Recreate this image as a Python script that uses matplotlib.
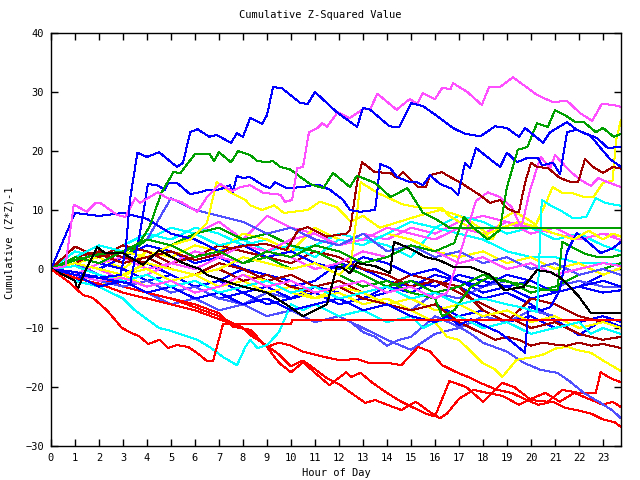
import matplotlib
matplotlib.use("Agg")
import matplotlib.pyplot as plt

# ---------------- data ----------------
hours = [0, 1, 2, 3, 4, 5, 6, 7, 8, 9, 10, 11, 12, 13, 14, 15, 16, 17, 18, 19, 20, 21, 22, 23, 23.75]
hour_labels = [str(i) for i in range(24)]
y_ticks = [-30, -20, -10, 0, 10, 20, 30, 40]

RED = "#ff0000"; GREEN = "#00a000"; BLUE = "#0000ff"; MAG = "#ff50ff"
CYAN = "#00ffff"; DRED = "#a00000"; YEL = "#ffff00"; BLACK = "#000000"; LBLUE = "#5050ff"

# irregularly sampled series (hours, values)
blue_top_h = [0, 1, 2, 2.9, 3.1, 3.3, 3.6, 4.0, 4.5, 5.25, 5.5, 5.8, 6.1, 6.6, 6.9, 7.5, 7.75, 8.0, 8.3, 8.8,
              9.0, 9.25, 9.6, 10.4, 10.7, 11.0, 11.9, 12.75, 13.0, 13.3, 14.1, 14.5, 15.0, 15.5, 16.2, 16.75,
              17.25, 17.9, 18.5, 19.0, 19.5, 19.75, 20.5, 20.8, 21.5, 21.9, 22.75, 23.2, 23.75]
blue_top_v = [0, -1, -1.5, -1, 3, 12, 19.7, 19, 19.8, 17.3, 18, 23.2, 23.7, 22.4, 22.7, 21.4, 23, 22.4, 25.6, 24.6,
              26.1, 30.8, 30.7, 28.1, 28, 30, 26.6, 24.1, 27.3, 27, 24.2, 24, 28.1, 27.6, 25.6, 23.9,
              22.9, 22.5, 24.2, 23.9, 22.4, 23.9, 21.4, 23.2, 24.9, 23.6, 22.2, 20.5, 20.7]

mag_top_h = [0, 0.6, 0.95, 1.5, 1.85, 2.05, 2.75, 3.1, 3.5, 3.7, 4.45, 4.85, 5.4, 6.1, 6.5, 7.05, 7.55, 7.9, 8.3, 8.85,
             9.55, 9.75, 10.05, 10.25, 10.5, 10.75, 11.1, 11.3, 11.5, 11.95, 12.45, 13.0, 13.3, 13.6, 14.4, 14.95,
             15.25, 15.5, 16.0, 16.3, 16.65, 16.75, 17.35, 17.95, 18.25, 18.7, 19.25, 19.65, 20.25, 20.9, 21.5,
             22.05, 22.55, 22.95, 23.4, 23.75]
mag_top_v = [0, 0.5, 10.9, 9.7, 11.2, 11.2, 9.2, 8.8, 12, 11.2, 13, 12, 11.4, 9.7, 12.2, 14.4, 13.2, 13.9, 14.2, 12.9,
             12.6, 11.4, 11.7, 17.1, 17.3, 23.2, 23.9, 24.7, 24.1, 26.6, 25.6, 27.1, 27.1, 29.7, 27, 28.8,
             28, 29.8, 28.8, 30.7, 30.5, 31.5, 30, 27.8, 30.8, 30.8, 32.5, 31.3, 29.5, 28.3, 28.5,
             26.4, 25.1, 28, 27.8, 27.5]

green_top_h = [0, 1, 2, 3.1, 3.7, 4.1, 4.6, 5.1, 5.4, 6.0, 6.6, 6.8, 7.0, 7.5, 7.8, 8.3, 8.6, 9.0, 9.25, 9.55,
               9.95, 10.8, 11.35, 11.75, 12.45, 12.75, 13.5, 14.15, 14.85, 15.5, 16.1, 16.6, 23.75]
green_top_v = [0, 1.5, 2.5, 3, 4.5, 7.1, 12.9, 16.4, 16.3, 19.5, 19.5, 18.3, 19.8, 18.1, 20, 19.3, 18.3, 18.1, 18.3, 17.3,
               16.9, 14.4, 13.7, 16.3, 13.9, 15.8, 14.6, 12.2, 13.7, 9.5, 8.3, 7.0, 7.0]

green_end_h = [0, 1, 2, 3, 4, 5, 6, 7, 8, 9, 10, 11, 12, 13, 14, 15, 16, 16.8, 17.2, 17.6, 18.2, 18.7, 19.0,
               19.45, 19.85, 20.25, 20.7, 21.0, 21.4, 21.85, 22.2, 22.7, 23.0, 23.45, 23.75]
green_end_v = [0, 2, 1, 3, 5, 4, 2, 3, 1, 3, 2, 4, 3, 1, 2, 4, 3, 4.4, 8.8, 7, 5, 6.6, 13.9,
               20.2, 20.7, 24.7, 24.1, 26.9, 26.1, 24.9, 24.9, 23.2, 23.9, 22.4, 22.9]

blue2_h = [0, 1, 2, 3.3, 3.7, 4.04, 4.42, 4.75, 4.88, 5.25, 5.79, 6.21, 6.5, 6.92, 7.17, 7.46, 7.58, 7.75, 8.0, 8.29,
           8.83, 9.13, 9.33, 9.83, 10.5, 10.88, 11.21, 11.63, 12.17, 12.46, 12.88, 13.5, 13.58, 13.71, 14.13, 14.42,
           14.96, 15.25, 15.5, 15.79, 16.21, 16.71, 16.96, 17.25, 17.46, 17.71, 18.08, 18.71, 19.0, 19.42, 19.83,
           20.29, 20.46, 20.92, 21.21, 21.5, 21.92, 22.5, 22.9, 23.3, 23.75]
blue2_v = [0, -0.5, -1.5, -2.5, 6, 14.4, 14.2, 13.4, 14.6, 14.6, 12.7, 13, 13.4, 13.4, 13.7, 14.2, 13, 15.8, 15.4, 15.6,
           14.2, 13.7, 14.7, 13.7, 13.9, 14.2, 14.2, 13.4, 11.7, 10, 9.7, 10, 12.5, 17.8, 17.1, 15.6,
           14.7, 14.7, 14.2, 15.9, 14.4, 13.6, 12.5, 18, 17.1, 20.5, 19.3, 17.3, 19.7, 18.1, 18.8,
           18.8, 17.6, 18, 16.1, 23.2, 23.6, 22.5, 20.5, 18.6, 17.3]

dred_hi_h = [0, 1, 2, 3, 4, 5, 6, 7, 7.5, 8.3, 9.0, 9.8, 10.3, 10.7, 11.5, 12.3, 12.46, 12.75, 12.96, 13.5,
             14.13, 14.42, 14.67, 15.3, 15.63, 15.79, 16.29, 16.63, 17.04, 17.46, 17.88, 18.29, 18.71, 19.0, 19.33,
             19.5, 19.75, 20.0, 20.25, 20.71, 21.21, 21.71, 21.96, 22.25, 22.58, 23.0, 23.42, 23.75]
dred_hi_v = [0, 1.5, 2.5, 1, 2, 3, 1.5, 2.5, 3.5, 4.1, 4.2, 3.2, 6.6, 7.1, 5.5, 6, 6.6, 14.6, 18.1, 16.4,
             16.3, 15.4, 16.4, 13.9, 13.9, 15.9, 16.4, 15.6, 14.7, 13.6, 12.5, 11.2, 11.7, 10.3, 9.7,
             9.7, 14.6, 18, 17.3, 17.1, 15.4, 14.7, 14.7, 18.6, 17.3, 16.3, 17.3, 17]

mag_mid_h = [0, 1, 2, 3, 4, 5, 6, 7, 8, 9, 10, 11, 12, 13, 14, 15, 16, 16.5, 17.0, 17.7, 18.2, 18.7, 19.2, 19.6,
             19.96, 20.4, 20.8, 21.0, 21.3, 21.7, 22.1, 22.5, 22.8, 23.2, 23.75]
mag_mid_v = [0, -1, -2, -1.5, -3, -2, -4, -3, -1, -3, -2, -4, -3, -2, -4, -3, -5, -4, 2, 11.5, 13, 12.2, 10.5, 7,
             13.4, 19, 17.1, 19.3, 18, 16.3, 15, 14.1, 15.4, 14.7, 13.9]

cyan_hi_h = [0, 1, 2, 3, 4, 5, 6, 7, 8, 9, 10, 11, 12, 13, 14, 15, 16, 17, 18, 19, 19.6, 20.25, 20.45, 20.8, 21.2,
             21.75, 22.3, 22.7, 23.1, 23.75]
cyan_hi_v = [0, 0.5, -1, -2, -1, -3, -2, -4, -3, -2, -4, -3, -5, -4, -3, -5, -4, -6, -5, -6, -6.5, -7.3, 11.7, 10.8, 10,
             8.6, 8.8, 12, 11.2, 10.7]

yel_end_h = [0, 1, 2, 3, 4, 5, 6, 7, 8, 9, 10, 11, 12, 12.5, 12.9, 13.6, 14.1, 14.6, 15.2, 15.8, 16.3, 16.6, 17.0,
             17.5, 18.0, 18.4, 18.8, 19.3, 19.8, 20.2, 20.6, 20.9, 21.3, 21.7, 22.2, 22.6, 23.0, 23.4, 23.55, 23.75]
yel_end_v = [0, 1, 0, -1, 1, 0, -1, 0, 2, 1, 0, 1, -1, 1, 14.7, 12.9, 12, 11, 10.5, 10.3, 10.3, 9, 8,
             7, 6, 5, 8.5, 9.7, 8.6, 7.5, 11, 13.9, 12.9, 12.9, 12.2, 12.2, 14.6, 15, 21.9, 25.3]

yel_two_h = [0, 1, 2, 3, 4, 5, 5.8, 6.5, 6.9, 7.5, 8.1, 8.3, 8.8, 9.3, 9.7, 10.7, 11.2, 11.9, 12.5, 13.0, 13.7,
             14.5, 15.3, 16.2, 16.9, 17.5, 18.2, 18.8, 19.5, 20.3, 21.0, 21.8, 22.4, 23.0, 23.4, 23.75]
yel_two_v = [0, 2, 1, 3, 2, 4, 5, 7.8, 14.7, 12.9, 11.7, 10.8, 10, 10.8, 9.5, 10, 11.4, 10.5, 8, 9, 7,
             8, 9, 10, 9.2, 8, 6, 7, 8, 7, 6, 5, 6.5, 5, 6, 5.5]

red_flat_h = [0, 0.8, 1.33, 1.75, 2.33, 2.96, 3.29, 3.71, 4.04, 4.54, 4.88, 5.25, 5.71, 6.08, 6.5, 6.75, 7.17,
              10.0, 10.05, 23.75]
red_flat_v = [0, -2.4, -4.4, -4.9, -7, -10, -10.7, -11.5, -12.7, -12, -13.4, -12.9, -13.2, -14.2, -15.6, -15.6, -9.3,
              -9.3, -8.6, -8.6]

cyan_low_h = [0, 1, 2, 3, 3.5, 4.5, 5.0, 6.1, 6.6, 7.2, 7.75, 8.1, 8.3, 8.6, 9.0, 9.5, 10.0, 10.5, 11, 12, 13, 14,
              15, 15.5, 16, 17, 18, 19, 20, 21, 22, 22.5, 23, 23.75]
cyan_low_v = [0, -2, -3, -5, -7, -10, -10.5, -12, -13.2, -15, -16.3, -13.2, -12, -13.4, -12.9, -10.7, -6, -7, -6, -8,
              -7, -9, -8, -10, -9, -8, -10, -9, -11, -10, -9, -11, -10, -11]

red_a_h = [0, 1, 2, 3, 4, 5, 6, 7, 7.6, 8.3, 9.0, 9.5, 10.0, 10.5, 11.0, 11.6, 12.3, 12.5, 12.9, 13.4, 14.0, 14.6,
           15.1, 15.6, 16.0, 16.3, 16.6, 17.3, 18.0, 18.8, 19.3, 20.0, 20.7, 21.3, 22.0, 22.7, 22.9, 23.3, 23.75]
red_a_v = [0, -1, -2, -3, -4, -5, -6, -7.5, -9.8, -10.3, -13.2, -15.9, -17.5, -15.8, -17.6, -19.7, -17.5, -18.3, -17.6,
           -19.3, -21, -22.5, -23.5, -24.5, -25, -22, -19, -20, -22.5, -19.3, -20, -22.2, -22.5, -20.5, -21, -21,
           -17.5, -18.5, -19.2]

red_b_h = [0, 1, 2, 3, 4, 5, 6, 7, 8, 8.3, 9, 9.5, 10, 10.5, 11, 11.5, 12, 12.5, 13.1, 13.5, 14, 14.6, 15.2, 15.7,
           16.2, 16.5, 17, 17.6, 18.2, 18.8, 19.5, 20, 20.6, 21.2, 21.8, 22.4, 23, 23.4, 23.75]
red_b_v = [0, -1, -1.5, -3, -4, -5, -6.5, -8, -10, -11.2, -13, -14.5, -16.5, -15.5, -17, -18.5, -19.5, -21, -22.7,
           -22.2, -23, -23.9, -22.5, -24, -25.3, -24.5, -22, -20.5, -21, -21.5, -23, -22, -21, -22.5, -21, -22,
           -23, -22.5, -23.4]

red_c_h = [0, 1, 2, 3, 4, 5, 6, 7, 8, 8.5, 9, 9.5, 10, 10.5, 11, 11.5, 12.1, 12.7, 13.3, 14.0, 14.6, 15.3, 15.8,
           16.3, 16.9, 17.5, 18.0, 18.6, 19.2, 19.7, 20.3, 20.9, 21.4, 22.0, 22.5, 23.0, 23.5, 23.75]
red_c_v = [0, -1.5, -2.5, -4, -5, -6, -7, -8.5, -10, -11.5, -13.2, -12.5, -13, -14, -14.5, -15, -15.5, -15.2, -16,
           -15.9, -16.3, -13.2, -14, -16.3, -17.5, -18.5, -19.5, -20.5, -21, -22, -23, -22.5, -23.5, -24, -24.5,
           -25.5, -26, -26.8]

lblue_low_h = [0, 1, 2, 3, 4, 5, 6, 7, 8, 9, 10, 11, 12, 12.5, 13, 13.5, 14, 14.5, 15, 16, 17, 17.5, 18, 19, 19.7,
               20.4, 21.1, 21.6, 22.2, 22.9, 23.4, 23.75]
lblue_low_v = [0, -1, -2, -3, -2, -4, -3, -5, -6, -5, -7, -6, -8, -9, -10.7, -11.5, -13, -12, -11.5, -8, -9.8, -11,
               -12.5, -14, -15.9, -17.1, -17.6, -19, -21, -22.7, -24, -25.3]

black_h = [0, 1, 1.1, 1.33, 1.92, 2.25, 3.0, 3.83, 4.5, 5.5, 6.2, 6.5, 7.2, 8.0, 9.0, 9.8, 10.5, 11.5, 11.9, 12.1,
           12.46, 12.75, 13.5, 14.13, 14.29, 14.83, 15.63, 16.17, 16.8, 17.5, 18.3, 18.9, 19.7, 20.25, 20.8, 21.2,
           21.5, 22.0, 22.5, 23.75]
black_v = [0, -2, -3.6, -1.2, 3.7, 2.7, 2.7, 0.7, 3.2, 1, 0, -1, -2, -3, -4, -6, -8, -6, 0.3, 0.3,
           -0.7, 1, 0.5, -0.7, 4.6, 3.7, 2, 1.5, 0.3, 0.3, -1, -3.6, -3, -0.2, -0.5, -1.4,
           -2.5, -4.7, -7.5, -7.5]

blue_jump_h = [0, 1, 2, 3, 4, 5, 6, 7, 8, 9, 10, 11, 12, 13, 14, 15, 16, 16.5, 17, 17.5, 18, 18.7, 19.25, 19.75,
               19.9, 20.4, 20.8, 21.2, 21.5, 21.9, 22.4, 22.9, 23.4, 23.75]
blue_jump_v = [0, -1, -3, -2, -4, -3, -5, -4, -6, -5, -7, -6, -5, -7, -6, -8, -9, -8, -9.5, -8.5, -9.5, -10.8, -12.5,
               -14.2, -6.4, -7, -6.5, -3.6, 2.9, 6.1, 4.5, 2.7, 3.5, 4.6]

green_mid_h = [0, 1, 2, 3, 4, 5, 6, 7, 8, 9, 10, 11, 12, 13, 14, 15, 16, 16.3, 16.8, 17.5, 18.2, 18.8, 19.5, 20,
               20.6, 21.1, 21.3, 21.8, 22.3, 22.8, 23.3, 23.75]
green_mid_v = [0, 2, 1, 3, 5, 4, 2, 3, 1, 2, 0, 1, -1, -3, -2, -4, -5, -8, -7, -3, -1.5, -2, -2.5, -3,
               -3.5, -3.6, 4.6, 3.5, 2.5, 2, 2, 2.4]

yel_mid_h = [0, 1, 2, 3, 4, 5, 6, 7, 8, 9, 10, 11, 12, 13, 14, 15, 16, 16.5, 17, 17.5, 18, 18.5, 18.8, 19.4, 20,
             20.5, 21, 21.5, 22, 22.5, 23, 23.75]
yel_mid_v = [0, -1, -2, -1, -3, -2, -1, -3, -2, -4, -3, -5, -4, -6, -5, -7, -9, -11.5, -12, -14, -16, -17, -18.3,
             -15.4, -15, -14.5, -13.5, -13.2, -13.8, -14.2, -15.5, -17.3]

dred_low_h = [0, 1, 2, 3, 4, 5, 6, 7, 8, 9, 10, 11, 12, 13, 14, 15, 16, 17, 17.5, 18, 18.5, 19, 19.5, 20, 20.5, 21,
              21.5, 22, 22.5, 23, 23.75]
dred_low_v = [0, 1, 3, 2, 1, 0, -1, 0, -2, -1, -3, -4, -3, -5, -6, -7, -6, -9, -10, -11, -12, -11.5, -12, -13, -12.5,
              -12.8, -13, -12.5, -13, -12.7, -13.4]

# hourly sampled series (values at `hours`)
mag_end = [0, 2, 4, 3, 5, 7, 6, 8, 5, 9, 7, 6, 4, 6, 5, 7, 6, 8, 9, 8, 7, 6, 5, 6, 4.9]
cyan_end = [0, 3, 2, 4, 6, 5, 7, 6, 4, 5, 3, 4, 6, 5, 4, 2, 7, 6, 5, 3, 2, 2, 1, 1, 0.7]
blue_end = [0, 1, 3, 2, 4, 3, 1, 2, 0, -1, -3, -2, 1, 0, -2, -3, -1, -2, -4, -3, -5, -4, -3, -1, 0.2]
yel_end2 = [0, 1, 2, 0, 3, 2, 4, 3, 6, 5, 3, 7, 5, 4, 6, 5, 3, 2, 3, 1, 2, 0, 1, -1, 0.2]
blue_m4 = [0, -1, 1, 0, -2, -1, -3, -2, 0, -1, -2, -4, -3, -5, -4, -2, -3, -1, -2, -3, -2, -4, -3, -4, -3.6]
lblue_m3 = [0, 1, -1, -2, -4, -3, -5, -7, -6, -4, -5, -3, -4, -6, -5, -7, -4, -5, -3, -2, -4, -3, -2, -3, -3]
blue_m9 = [0, -2, -1, -3, -2, -4, -3, -5, -4, -6, -5, -3, -4, -6, -5, -7, -6, -8, -7, -9, -8, -10, -9, -8, -9]
blue_m10 = [0, 1, 0, 2, 1, -1, -3, -2, -4, -3, -5, -4, -6, -5, -3, -4, -2, -3, -5, -4, -6, -8.6, -11.2, -8.6, -9.8]
dred_mid = [0, 2, 3, 1, 2, 0, -1, 1, 0, -2, -1, -3, -2, -4, -3, -1, -2, -3, -7, -9, -5, -6, -8, -9, -10]
dred_hi2 = [0, 3.8, 2, 4, 3, 1, 2, 4, 3, 2, 1, 3, 2, 0, -1, -3, -2, -4, -6, -8, -10, -9, -11, -12, -11.5]
lblue_m13 = [0, -1, -3, -2, -4, -6, -5, -7, -6, -8, -7, -9, -8, -10, -12, -13.7, -11, -10, -8, -9, -7, -8, -10, -9, -10]
cyan_up = [0, 2, 4, 3, 5, 7, 6, 4, 5, 3, 4, 2, 5, 4, 6, 8, 7, 9, 8, 6, 7, 5, 6, 4, 3]
green_m = [0, 1, 3, 2, 5, 4, 6, 7, 5, 6, 4, 3, 1, -1, -3, -2, -4, -3, -1, -2, -4, -3, -1, 0, 1]
mag_low = [0, -1, 1, 2, 0, 1, 3, 2, 4, 3, 5, 6, 4, 5, 7, 6, 5, 7, 6, 8, 6, 7, 5, 6, 5.5]
lblue_hi = [0, 2, 1, 3, 5, 12, 10, 9, 8, 6, 7, 5, 4, 6, 3, 4, 2, 3, 1, 2, 0, 1, -1, 0, -1]
blue_early = [0, 9.5, 9, 9.5, 8.5, 6, 5, 3, 4, 2, 3, 1, 0, 2, 1, -1, 0, -2, -3, -1, -2, -4, -3, -2, -3]
mag_m2 = [0, 1, 0, -2, -1, 1, 0, 2, 1, 3, 2, 0, 1, 3, 2, 4, 3, 1, 2, 0, 1, -1, 0, 1, 0.5]
yel_m3 = [0, -2, -3, -1, 0, -2, -4, -3, -1, -2, -4, -5, -3, -4, -6, -5, -7, -6, -8, -7, -9, -8, -10, -9, -10]

# ---------------- figure ----------------
plt.rcParams['font.family'] = ['DejaVu Sans Mono']
fig = plt.figure(figsize=(6.4, 4.8), dpi=100)
ax = fig.add_axes([51 / 640, 34 / 480, 570 / 640, 413 / 480])

hourly = [
    (mag_end, MAG), (cyan_end, CYAN), (blue_end, BLUE), (yel_end2, YEL), (blue_m4, BLUE),
    (lblue_m3, LBLUE), (blue_m9, BLUE), (blue_m10, BLUE), (dred_mid, DRED), (dred_hi2, DRED),
    (lblue_m13, LBLUE), (cyan_up, CYAN), (green_m, GREEN), (mag_low, MAG), (lblue_hi, LBLUE),
    (blue_early, BLUE), (mag_m2, MAG), (yel_m3, YEL),
]
irregular = [
    (red_a_h, red_a_v, RED), (red_b_h, red_b_v, RED), (red_c_h, red_c_v, RED),
    (lblue_low_h, lblue_low_v, LBLUE), (cyan_low_h, cyan_low_v, CYAN), (yel_mid_h, yel_mid_v, YEL),
    (dred_low_h, dred_low_v, DRED), (green_mid_h, green_mid_v, GREEN), (blue_jump_h, blue_jump_v, BLUE),
    (yel_two_h, yel_two_v, YEL), (yel_end_h, yel_end_v, YEL), (cyan_hi_h, cyan_hi_v, CYAN),
    (mag_mid_h, mag_mid_v, MAG), (dred_hi_h, dred_hi_v, DRED), (blue2_h, blue2_v, BLUE),
    (green_end_h, green_end_v, GREEN), (green_top_h, green_top_v, GREEN), (mag_top_h, mag_top_v, MAG),
    (blue_top_h, blue_top_v, BLUE), (black_h, black_v, BLACK), (red_flat_h, red_flat_v, RED),
]

for vals, col in hourly:
    ax.plot(hours, vals, color=col, lw=0.72, antialiased=False)
for hh, vv, col in irregular:
    ax.plot(hh, vv, color=col, lw=0.72, antialiased=False)

ax.set_xlim(0, 23.75)
ax.set_ylim(-30, 40)
ax.set_xticks(range(24))
ax.set_xticklabels(hour_labels)
ax.set_yticks(y_ticks)
ax.tick_params(direction='in', top=True, right=True, length=5, width=1, labelsize=7.5, pad=5, colors='black')
for sp in ax.spines.values():
    sp.set_linewidth(1.0)

fig.text(0.5, 1 - 15 / 480, "Cumulative Z-Squared Value", ha='center', va='center', fontsize=7.5)
fig.text(336 / 640, 1 - 473 / 480, "Hour of Day", ha='center', va='center', fontsize=7.5)
fig.text(10 / 640, 1 - 243 / 480, "Cumulative (Z*Z)-1", ha='center', va='center', rotation=90, fontsize=7.5)

fig.savefig("out.png", dpi=100)
